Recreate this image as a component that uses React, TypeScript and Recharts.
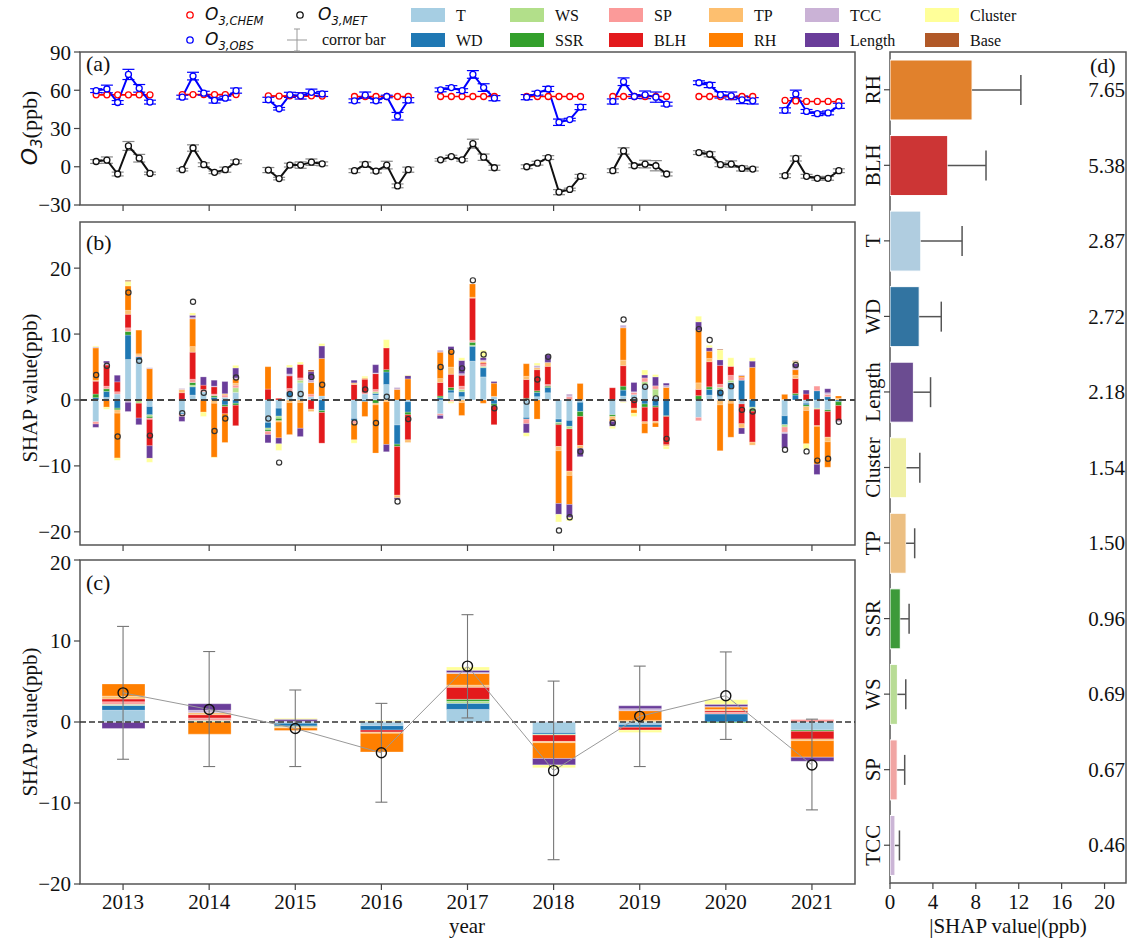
import React from 'react';
import { ComposedChart, BarChart, Bar, Line, XAxis, YAxis, ReferenceLine, ReferenceArea, ErrorBar } from 'recharts';

const SERIF = '"Liberation Serif", "Times New Roman", serif';
const SANS = '"DejaVu Sans", sans-serif';

// ---- shared categories ----
const years = [2013, 2014, 2015, 2016, 2017, 2018, 2019, 2020, 2021];
const featureKeys = ['T', 'WD', 'WS', 'SSR', 'SP', 'BLH', 'TP', 'RH', 'TCC', 'Length', 'Cluster', 'Base'];
const featureColors = ['#a6cee3', '#1f78b4', '#b2df8a', '#33a02c', '#fb9a99', '#e31a1c', '#fdbf6f', '#ff7f00', '#cab2d6', '#6a3d9a', '#ffff99', '#b15928'];

// ---- panel (a): O3 per year, 6 sub-periods each ----
const chemO3 = [
  [56.4, 56.4, 56.4, 56.4, 56.4, 56.4],
  [56.6, 56.6, 56.6, 56.6, 56.6, 56.6],
  [55.6, 55.4, 55.6, 55.4, 55.6, 55.4],
  [55.1, 55.1, 55.1, 55.1, 55.1, 55.1],
  [55.1, 55.1, 55.1, 55.1, 55.1, 55.1],
  [55.1, 55.1, 55.1, 55.1, 55.1, 55.1],
  [55.1, 55.1, 55.1, 55.1, 55.1, 55.1],
  [55.1, 55.1, 55.1, 55.1, 55.1, 55.1],
  [52.0, 51.6, 51.2, 51.2, 51.2, 51.0],
];
const obsO3 = [
  [59.7, 61.0, 50.4, 72.4, 61.5, 50.7],
  [54.6, 71.1, 57.7, 52.0, 53.8, 59.7],
  [52.5, 45.5, 56.4, 55.6, 58.4, 57.1],
  [51.7, 56.1, 51.7, 55.1, 39.6, 52.2],
  [60.3, 62.1, 59.7, 72.4, 62.1, 53.8],
  [54.6, 57.7, 61.0, 34.9, 37.0, 46.8],
  [51.2, 66.7, 55.1, 56.4, 54.6, 49.1],
  [65.9, 64.1, 56.4, 55.6, 52.5, 51.7],
  [44.2, 57.1, 43.4, 41.6, 42.2, 47.8],
];
const obsErr = [
  [1.5, 3, 1.5, 4, 3, 1.5],
  [1.5, 3, 1.5, 2, 1.5, 2],
  [2, 1, 2, 2.5, 2.5, 2],
  [1.5, 2.5, 1.5, 1, 3, 2],
  [1.5, 1.5, 1.5, 3, 3, 2],
  [2, 1.5, 2, 2.5, 1, 2],
  [2, 3, 1.5, 3, 4, 1.5],
  [1.5, 2, 2.5, 3, 3, 2.5],
  [2, 3, 1.5, 1.5, 1.5, 2],
];
const metO3 = [
  [4.1, 5.2, -5.7, 16.3, 6.7, -5.2],
  [-2.3, 14.7, 1.6, -4.4, -2.3, 3.9],
  [-2.6, -9.3, 1.3, 1.3, 3.6, 2.3],
  [-3.1, 1.8, -3.4, 1.3, -15.0, -2.3],
  [5.4, 8.0, 5.4, 18.1, 7.5, -0.8],
  [0.0, 2.8, 7.2, -19.9, -17.8, -7.5],
  [-3.1, 12.4, 0.8, 2.1, 0.8, -5.7],
  [11.1, 9.8, 1.6, 2.1, -1.3, -1.8],
  [-7.0, 6.5, -7.5, -9.1, -9.1, -3.1],
];
const metErr = [
  [1.5, 2.5, 1.5, 3.5, 3, 1],
  [1, 2.5, 1.5, 1, 2, 1.5],
  [2, 1, 1.5, 2.5, 2.5, 1.5],
  [1.5, 2, 1.5, 3, 1.5, 2],
  [1, 1, 1, 3.5, 2.5, 2],
  [1.5, 1.5, 1.5, 2, 1, 1.5],
  [1.5, 2.5, 1.5, 3, 4, 1.5],
  [1.5, 2, 1.5, 2.5, 2, 1.5],
  [1.5, 2, 1.5, 1.5, 1.5, 1.5],
];

// ---- panel (b): SHAP per sub-period (6 per year, 2013..2021) ----
const shapT = [
  -3.3, 0.4, 0.9, 6.15, 6.05, -1.0,
  -2.0, 0.75, 1.25, 0, 0.4, 1.15,
  -3.4, -1.25, 0.5, 2.6, 0.5, 0.6,
  -2.8, 0.9, 0.75, 2.35, -3.8, -0.25,
  -2.1, 1.1, 0.5, 5.9, 3.5, 0.5,
  -2.65, 0.5, 1.1, -2.9, -3.1, -0.35,
  -2.25, 0.6, 0.8, 2.25, 0.5, 0,
  -2.65, 0.75, 0.5, 1.75, -0.6, 0.1,
  -2.4, 0, -0.5, -1.25, -1.5, 0,
];
const shapWD = [
  0.35, 0.9, -1.25, 3.7, 0.5, -1.25,
  -0.2, 1.25, 0, 0.4, -0.75, -0.5,
  -0.85, -1.2, 0.75, 0, 0, -1.6,
  -0.35, -0.25, 0.25, 1.9, -2.9, -1.6,
  0.35, 0.4, 0.75, 2.25, 1.4, -0.6,
  -0.25, 0.65, 0.8, -0.5, -0.9, -1.4,
  0, 0.9, 0, -0.6, -0.9, -2.4,
  0, 0.85, 1.1, 0.9, 3.0, -1.1,
  -1.35, 0.75, -0.25, 1.4, 0.5, -0.25,
];
const shapWS = [
  0, 0, 0, 0, -0.5, -0.25,
  0, 0.25, 0, 0, 0, 0.7,
  -0.25, -0.35, 0, 0.4, 0, 0,
  0, 0, 0.25, 0, 0, 0,
  0, 0, 0.35, 0.15, 0.2, 0,
  0, 0, 0, -0.15, -0.4, 0,
  0, 0, 0, 0.5, 1.15, 0,
  0, 0, 0.3, 0.35, 0, -0.3,
  -0.35, 0, 0, -0.15, 0, 0,
];
const shapSSR = [
  0.55, 0.4, -0.25, 0.55, 0, -0.25,
  0, 0.4, 0, 0.25, -0.25, -0.3,
  -0.25, -0.35, 0, 0, 0, -0.3,
  0, 0, -0.5, 0.35, -0.35, -0.4,
  0.25, 0.4, 0, 0.45, 0, -0.3,
  0.25, 0.25, 0.2, -0.2, 0, -0.75,
  -0.25, 0.6, 0, -0.5, -0.2, -0.1,
  0.65, 0.4, 0, 0, 0, -0.3,
  0, 0.25, -0.25, 0, -0.25, -0.6,
];
const shapSP = [
  -0.35, 0.4, 0.35, 0.55, 0.15, -0.2,
  -0.3, 0.5, 0.35, 0.25, 0.35, 0.4,
  -0.5, 0, 0.5, 0.35, 0.4, 0,
  -0.4, 0.2, 0.35, 0, 0, 0,
  -0.25, -0.25, 0.5, 0.3, 0.3, 0,
  -0.7, 0, 0.25, 0, 0.5, 0,
  0, 0, 0.35, 0.6, 0.5, 0,
  -0.5, 0, 0.5, 0.75, 0.4, 0,
  -0.8, 0, 0, 0.7, 0.35, 0,
];
const shapBLH = [
  1.95, 3.2, 1.5, 2.05, -2.25, -4.0,
  1.1, 4.1, 0.65, 1.1, -1.1, -3.1,
  1.65, 0.25, 1.9, 2.05, -1.4, -4.65,
  2.35, 2.05, 2.4, 3.3, -7.4, -3.8,
  2.05, 2.0, 1.65, 6.4, 0.2, -2.85,
  2.85, 3.2, 2.75, -3.3, -6.4, -4.4,
  1.85, 3.1, -1.25, -2.2, -2.15, -4.3,
  0.95, 3.8, 2.85, 1.35, -3.0, -4.7,
  0, 2.25, 0.9, -2.5, -3.9, -2.3,
];
const shapTP = [
  0.15, 0, -0.5, 0.6, 0.3, 0,
  0.5, 0.85, 0, -0.5, 0.2, 0.3,
  0, -0.2, -0.4, -0.4, -0.35, 0,
  0.25, 0.2, -0.25, -0.25, -0.4, -0.4,
  0.6, 1.1, -0.4, 0.15, 0.25, 0.05,
  0.5, 0.3, 0.6, -0.65, -0.65, -0.45,
  -0.4, 0.85, -0.25, -0.25, -0.25, -0.25,
  1.0, 0.5, -0.75, -0.5, -0.65, -0.45,
  0.1, 0.5, -0.6, -0.1, -0.7, 0.25,
];
const shapRH = [
  4.9, -1.1, -6.8, 3.7, 3.6, 4.75,
  0, 4.2, -1.85, -8.2, -4.35, 0.65,
  3.4, -2.4, -4.85, -3.9, 1.75, 5.7,
  -2.5, -2.25, -7.3, -6.5, 1.6, 3.2,
  4.0, 2.6, -1.95, 2.0, -0.5, 2.0,
  1.9, -2.9, 0, -8.0, -4.4, 2.5,
  -0.35, 4.9, -0.5, -1.5, -0.6, 1.9,
  8.0, 1.1, -6.95, -5.15, 0.25, 4.85,
  0.75, 0.85, -5.05, -5.75, -3.85, 0.35,
];
const shapTCC = [
  0.15, 0.3, 0, -0.35, 0, 0.15,
  0.15, 0.2, 0, 0.1, 0, 0.15,
  0, 0, 0.3, 0, 0.5, 0,
  0, 0, 0.1, 0, 0.3, 0,
  0.3, 0, 0.25, 0, 0.2, 0,
  0, 0.35, 0, 0, 0.4, 0,
  0, 0.4, 0.1, 0, 0, 0.3,
  0, 0, 0, 0, 0.15, 0,
  -0.2, 0.3, 0, 0, 0.25, 0,
];
const shapLength = [
  -0.5, 0.3, 1.0, -1.4, -1.0, -1.9,
  -0.75, 0.35, 1.25, 0.9, 1.85, 1.5,
  -1.25, -0.9, 1.0, -1.25, 1.15, 1.9,
  0.4, 0, 1.25, -1.1, -0.25, 0.5,
  -0.5, 0.5, 2.0, 0, 0.4, 0.25,
  -1.4, 0, 1.15, -1.65, -2.0, -1.25,
  -0.75, -0.25, 1.4, 0.45, 1.35, 0.35,
  1.25, 0.55, 0.85, 0, -0.9, 0.95,
  -2.2, 0.65, 0.6, -1.55, 0.6, -0.1,
];
const shapCluster = [
  0.15, -0.3, -0.35, 0.7, 0, -0.6,
  0, 0.35, -0.65, -0.1, 0, 0.4,
  0, -1.0, 0.35, 0.35, 0, 0.35,
  -0.5, 0.25, 0, 1.25, 0, 0.1,
  0, -0.25, 0.4, 0, 1.1, 0,
  -0.5, 0.35, 0, -1.15, -0.5, 0,
  -0.35, -0.15, -0.5, 0.75, 0.35, -0.4,
  0.85, 0.35, 1.5, 1.3, 0, 0.5,
  0, 0.3, -0.8, 0, 0, 0,
];
const shapBase = [
  0, 0, 0, 0.15, 0, 0,
  0, 0, 0, 0, 0, 0,
  0, 0, 0, 0, 0.25, 0,
  0, 0, 0, 0, 0, 0,
  0, 0, 0, 0, 0, 0,
  0, 0, 0, 0, 0, 0,
  0, 0, 0, 0, 0, 0,
  0, 0, 0.1, 0, 0, 0,
  0, 0.1, 0, 0, 0, 0,
];
const shapTotal = [
  3.8, 5.2, -5.55, 16.3, 5.95, -5.4,
  -2.0, 14.9, 1.1, -4.7, -2.8, 3.4,
  -2.8, -9.5, 0.9, 0.9, 3.5, 2.3,
  -3.4, 1.6, -3.5, 0.5, -15.4, -2.9,
  5.0, 7.3, 4.8, 18.15, 6.9, -1.25,
  -0.25, 3.1, 6.55, -19.8, -17.8, -7.8,
  -3.45, 12.2, 0, 2.0, 0.25, -5.9,
  10.75, 9.1, 1.1, 2.1, -1.5, -1.75,
  -7.55, 5.3, -7.8, -9.2, -8.9, -3.3,
];

// ---- panel (c): yearly SHAP ----
const yrT = [1.45, 0, -0.15, -0.45, 1.55, -1.3, -0.3, 0, -1.0];
const yrWD = [0.6, 0, -0.35, -0.55, 0.75, -0.2, -0.35, 1.0, 0];
const yrWS = [0.1, 0.15, 0, 0, 0.25, -0.1, 0, 0, 0];
const yrSSR = [0.05, 0.05, -0.1, 0, 0.25, 0, 0.05, -0.1, -0.15];
const yrSP = [0.3, 0.3, -0.05, 0, 0, 0, 0, 0.2, 0.3];
const yrBLH = [0.35, 0.4, 0, -0.25, 1.5, -0.8, -0.35, 0.2, -0.95];
const yrTP = [0.35, 0.25, -0.1, -0.15, 0.25, -0.15, 0.15, 0.15, -0.2];
const yrRH = [1.5, -1.5, -0.3, -2.3, 1.45, -1.95, 1.2, 0.3, -2.05];
const yrTCC = [-0.05, 0.3, 0.1, 0.1, 0.1, 0.05, 0.25, 0.05, 0];
const yrLength = [-0.75, 0.8, 0.25, 0, 0.3, -0.8, 0.35, 0.3, -0.5];
const yrCluster = [0, 0, 0.1, 0.1, 0.4, -0.35, -0.3, 0.55, 0];
const yrBase = [0, 0, 0, 0, 0, 0, 0, 0, 0];
const yrMean = [3.6, 1.55, -0.8, -3.8, 6.9, -6.0, 0.7, 3.25, -5.3];
const yrHigh = [11.8, 8.7, 3.95, 2.3, 13.25, 5.05, 6.9, 8.65, 0.35];
const yrLow = [-4.6, -5.5, -5.5, -9.9, 0.5, -17.0, -5.5, -2.15, -10.85];

// ---- panel (d): mean |SHAP| ----
const impNames = ['RH', 'BLH', 'T', 'WD', 'Length', 'Cluster', 'TP', 'SSR', 'WS', 'SP', 'TCC'];
const impValues = [7.65, 5.38, 2.87, 2.72, 2.18, 1.54, 1.50, 0.96, 0.69, 0.67, 0.46];
const impErr = [4.55, 3.57, 3.85, 2.06, 1.6, 1.24, 0.8, 0.82, 0.78, 0.7, 0.42];
const impColors = ['#e1812c', '#cc3535', '#b0cde0', '#3274a1', '#6b4c91', '#f0f0a6', '#ecbf82', '#3d9a3a', '#b8dc95', '#f1a5a3', '#cbb5d6'];
const impMax = 22;

const shapByFeature: Record<string, number[]> = {
  T: shapT, WD: shapWD, WS: shapWS, SSR: shapSSR, SP: shapSP, BLH: shapBLH,
  TP: shapTP, RH: shapRH, TCC: shapTCC, Length: shapLength, Cluster: shapCluster, Base: shapBase,
};
const yearlyByFeature: Record<string, number[]> = {
  T: yrT, WD: yrWD, WS: yrWS, SSR: yrSSR, SP: yrSP, BLH: yrBLH,
  TP: yrTP, RH: yrRH, TCC: yrTCC, Length: yrLength, Cluster: yrCluster, Base: yrBase,
};

const subX = (yr: number, j: number) => yr + (j - 2.5) / 8;
const fmt = (v: number) => String(v).replace('-', '\u2212');

const linePoints = (table: number[][], errs: number[][] | null, yi: number) =>
  table[yi].map((v, j) => ({ x: subX(years[yi], j), v, e: errs ? errs[yi][j] : 0 }));

const bRows = years.flatMap((yr, yi) =>
  [0, 1, 2, 3, 4, 5].map((j) => {
    const i = yi * 6 + j;
    const row: any = { x: subX(yr, j), total: shapTotal[i] };
    featureKeys.forEach((k) => { row[k] = shapByFeature[k][i]; });
    return row;
  })
);

const cRows = years.map((yr, yi) => {
  const row: any = { x: yr, mean: yrMean[yi], err: [yrMean[yi] - yrLow[yi], yrHigh[yi] - yrMean[yi]] };
  featureKeys.forEach((k) => { row[k] = yearlyByFeature[k][yi]; });
  return row;
});

const dRows = impNames.map((name, i) => ({ name, value: impValues[i], err: impErr[i], color: impColors[i] }));

const tickStyle = { fontSize: 21, fontFamily: SERIF, fill: '#111' };
const axisTickLine = { stroke: '#444', strokeWidth: 1.2 };
const frame = { fill: 'none', stroke: '#555', strokeWidth: 1.5, fillOpacity: 0 };
const xDomain: [number, number] = [2012.5, 2021.5];

const ImpBar = (props: any) => {
  const { x, y, width, height, payload } = props;
  if (!payload || !width) return null;
  const ppu = width / payload.value;
  const cy = y + height / 2;
  const ex = x + (payload.value + payload.err) * ppu;
  const right = x + impMax * ppu;
  return (
    <g>
      <rect x={x} y={y} width={width} height={height} fill={payload.color} stroke="#fff" strokeWidth={1} />
      <line x1={x + width} x2={ex} y1={cy} y2={cy} stroke="#555" strokeWidth={1.5} />
      <line x1={ex} x2={ex} y1={cy - 15} y2={cy + 15} stroke="#555" strokeWidth={1.5} />
      <text x={right - 1} y={cy + 7} textAnchor="end" fontSize={21} fontFamily={SERIF} fill="#111">
        {payload.value.toFixed(2)}
      </text>
    </g>
  );
};

const ImpTick = (props: any) => {
  const { x, y, payload } = props;
  return (
    <text transform={`translate(${x - 2},${y}) rotate(-90)`} textAnchor="middle" fontSize={21} fontFamily={SERIF} fill="#111">
      {payload.value}
    </text>
  );
};

const O3Label = ({ x, y, sub, size }: { x: number; y: number; sub: string; size: number }) => (
  <text x={x} y={y} fontFamily={SANS} fontStyle="italic" fontSize={size} fill="#111">
    O<tspan fontSize={size * 0.68} dy={size * 0.28}>{sub}</tspan>
  </text>
);

const legendCols = [
  { x: 411, keys: ['T', 'WD'] },
  { x: 510, keys: ['WS', 'SSR'] },
  { x: 609, keys: ['SP', 'BLH'] },
  { x: 709, keys: ['TP', 'RH'] },
  { x: 805, keys: ['TCC', 'Length'] },
  { x: 925, keys: ['Cluster', 'Base'] },
];
const legendRows = [15, 40];

function Overlay() {
  return (
    <svg width={1136} height={943} style={{ position: 'absolute', left: 0, top: 0, pointerEvents: 'none' }}>
      {/* legend */}
      <circle cx={190} cy={legendRows[0]} r={3.2} fill="none" stroke="#f00" strokeWidth={1.3} />
      <O3Label x={205} y={legendRows[0] + 5} sub="3,CHEM" size={17} />
      <circle cx={190} cy={legendRows[1]} r={3.2} fill="none" stroke="#00f" strokeWidth={1.3} />
      <O3Label x={205} y={legendRows[1] + 5} sub="3,OBS" size={17} />
      <circle cx={300} cy={legendRows[0]} r={3.2} fill="none" stroke="#111" strokeWidth={1.3} />
      <O3Label x={318} y={legendRows[0] + 5} sub="3,MET" size={17} />
      <line x1={297} x2={297} y1={legendRows[1] - 11} y2={legendRows[1] + 11} stroke="#999" strokeWidth={1} />
      <line x1={294} x2={300} y1={legendRows[1] - 11} y2={legendRows[1] - 11} stroke="#999" strokeWidth={1} />
      <line x1={294} x2={300} y1={legendRows[1] + 11} y2={legendRows[1] + 11} stroke="#999" strokeWidth={1} />
      <line x1={287} x2={307} y1={legendRows[1]} y2={legendRows[1]} stroke="#999" strokeWidth={1} />
      <text x={322} y={legendRows[1] + 5} fontFamily={SERIF} fontSize={16} fill="#111">corror bar</text>
      {legendCols.map((col) =>
        col.keys.map((k, r) => (
          <g key={k}>
            <rect x={col.x} y={legendRows[r] - 7} width={34} height={14} fill={featureColors[featureKeys.indexOf(k)]} />
            <text x={col.x + 45} y={legendRows[r] + 6} fontFamily={SERIF} fontSize={16} fill="#111">{k}</text>
          </g>
        ))
      )}
      {/* panel letters */}
      <text x={86} y={71} fontFamily={SERIF} fontSize={22} fill="#111">(a)</text>
      <text x={86} y={250} fontFamily={SERIF} fontSize={22} fill="#111">(b)</text>
      <text x={86} y={590} fontFamily={SERIF} fontSize={22} fill="#111">(c)</text>
      <text x={1090} y={73} fontFamily={SERIF} fontSize={22} fill="#111">(d)</text>
      {/* axis titles */}
      <g transform="translate(37,128) rotate(-90)">
        <text x={0} y={0} textAnchor="middle" fontSize={22} fill="#111">
          <tspan fontFamily={SANS} fontStyle="italic">O</tspan>
          <tspan fontFamily={SANS} fontStyle="italic" fontSize={15} dy={5}>3</tspan>
          <tspan fontFamily={SERIF} dy={-5}>(ppb)</tspan>
        </text>
      </g>
      <text transform="translate(37,388) rotate(-90)" textAnchor="middle" fontFamily={SERIF} fontSize={21} fill="#111">SHAP value(ppb)</text>
      <text transform="translate(37,722) rotate(-90)" textAnchor="middle" fontFamily={SERIF} fontSize={21} fill="#111">SHAP value(ppb)</text>
      <text x={467} y={933} textAnchor="middle" fontFamily={SERIF} fontSize={21} fill="#111">year</text>
      <text x={1008} y={933} textAnchor="middle" fontFamily={SERIF} fontSize={21} fill="#111">|SHAP value|(ppb)</text>
    </svg>
  );
}

function PanelA() {
  return (
    <ComposedChart width={870} height={180} margin={{ top: 12, right: 15, bottom: 5, left: 0 }}>
      <XAxis type="number" dataKey="x" domain={xDomain} ticks={years} tickFormatter={() => ''} height={10}
        tickSize={6} axisLine={false} tickLine={axisTickLine} allowDataOverflow />
      <YAxis type="number" domain={[-30, 90]} ticks={[-30, 0, 30, 60, 90]} width={80} tickSize={6} tickMargin={3}
        tick={tickStyle} tickFormatter={fmt} axisLine={false} tickLine={axisTickLine} allowDataOverflow />
      <ReferenceArea x1={xDomain[0]} x2={xDomain[1]} {...frame} />
      {years.map((yr, yi) => (
        <Line key={'chem' + yr} data={linePoints(chemO3, null, yi)} dataKey="v" stroke="#f00" strokeWidth={1.6}
          dot={{ r: 3, stroke: '#f00', strokeWidth: 1.3, fill: '#fff' }} activeDot={false} isAnimationActive={false} />
      ))}
      {years.map((yr, yi) => (
        <Line key={'obs' + yr} data={linePoints(obsO3, obsErr, yi)} dataKey="v" stroke="#00f" strokeWidth={2}
          dot={{ r: 3, stroke: '#00f', strokeWidth: 1.3, fill: '#fff' }} activeDot={false} isAnimationActive={false}>
          <ErrorBar dataKey="e" width={6} stroke="#00f" strokeWidth={1.2} direction="y" />
        </Line>
      ))}
      {years.map((yr, yi) => (
        <Line key={'met' + yr} data={linePoints(metO3, metErr, yi)} dataKey="v" stroke="#111" strokeWidth={2}
          dot={{ r: 3, stroke: '#111', strokeWidth: 1.3, fill: '#fff' }} activeDot={false} isAnimationActive={false}>
          <ErrorBar dataKey="e" width={6} stroke="#888" strokeWidth={1.2} direction="y" />
        </Line>
      ))}
    </ComposedChart>
  );
}

function PanelB() {
  return (
    <ComposedChart width={870} height={350} data={bRows} stackOffset="sign" margin={{ top: 12, right: 15, bottom: 5, left: 0 }}>
      <XAxis type="number" dataKey="x" domain={xDomain} ticks={years} tickFormatter={() => ''} height={10}
        tickSize={6} axisLine={false} tickLine={axisTickLine} allowDataOverflow />
      <YAxis type="number" domain={[-22, 27]} ticks={[-20, -10, 0, 10, 20]} width={80} tickSize={6} tickMargin={3}
        tick={tickStyle} tickFormatter={fmt} axisLine={false} tickLine={axisTickLine} allowDataOverflow />
      <ReferenceArea x1={xDomain[0]} x2={xDomain[1]} {...frame} />
      {featureKeys.map((k, i) => (
        <Bar key={k} dataKey={k} stackId="s" fill={featureColors[i]} barSize={6}
          stroke="#fff" strokeOpacity={0.45} strokeWidth={0.5} isAnimationActive={false} />
      ))}
      <ReferenceLine y={0} stroke="#444" strokeWidth={2} strokeDasharray="7 4" />
      <Line dataKey="total" stroke="none" dot={{ r: 2.6, stroke: '#333', strokeWidth: 1.2, fill: 'none' }}
        activeDot={false} isAnimationActive={false} legendType="none" />
    </ComposedChart>
  );
}

function PanelC() {
  return (
    <ComposedChart width={870} height={393} data={cRows} stackOffset="sign" margin={{ top: 10, right: 15, bottom: 9, left: 0 }}>
      <XAxis type="number" dataKey="x" domain={xDomain} ticks={years} height={50} tickSize={6} tickMargin={4}
        tick={tickStyle} axisLine={false} tickLine={axisTickLine} allowDataOverflow />
      <YAxis type="number" domain={[-20, 20]} ticks={[-20, -10, 0, 10, 20]} width={80} tickSize={6} tickMargin={3}
        tick={tickStyle} tickFormatter={fmt} axisLine={false} tickLine={axisTickLine} allowDataOverflow />
      <ReferenceArea x1={xDomain[0]} x2={xDomain[1]} {...frame} />
      {featureKeys.map((k, i) => (
        <Bar key={k} dataKey={k} stackId="s" fill={featureColors[i]} barSize={43}
          stroke="#fff" strokeOpacity={0.5} strokeWidth={0.6} isAnimationActive={false} />
      ))}
      <ReferenceLine y={0} stroke="#333" strokeWidth={1.3} strokeDasharray="6 3" />
      <Line dataKey="mean" stroke="#999" strokeWidth={1} dot={{ r: 5, stroke: '#111', strokeWidth: 1.4, fill: 'none' }}
        activeDot={false} isAnimationActive={false} legendType="none">
        <ErrorBar dataKey="err" width={6} stroke="#777" strokeWidth={1.1} direction="y" />
      </Line>
    </ComposedChart>
  );
}

function PanelD() {
  return (
    <BarChart width={276} height={903} data={dRows} layout="vertical" margin={{ top: 12, right: 10, bottom: 10, left: 0 }}>
      <XAxis type="number" domain={[0, impMax]} ticks={[0, 4, 8, 12, 16, 20]} height={50} tickSize={6} tickMargin={5}
        tick={tickStyle} axisLine={false} tickLine={axisTickLine} allowDataOverflow />
      <YAxis type="category" dataKey="name" width={30} tickSize={6} tickMargin={2} tick={<ImpTick />}
        axisLine={false} tickLine={axisTickLine} />
      <ReferenceArea x1={0} x2={impMax} {...frame} />
      <Bar dataKey="value" barSize={60} shape={<ImpBar />} isAnimationActive={false} />
    </BarChart>
  );
}

export default function App() {
  return (
    <div style={{ position: 'absolute', left: 0, top: 0, width: 1136, height: 943, background: '#fff', fontFamily: SERIF }}>
      <div style={{ position: 'absolute', left: 0, top: 40 }}><PanelA /></div>
      <div style={{ position: 'absolute', left: 0, top: 210 }}><PanelB /></div>
      <div style={{ position: 'absolute', left: 0, top: 550 }}><PanelC /></div>
      <div style={{ position: 'absolute', left: 860, top: 40 }}><PanelD /></div>
      <Overlay />
    </div>
  );
}
